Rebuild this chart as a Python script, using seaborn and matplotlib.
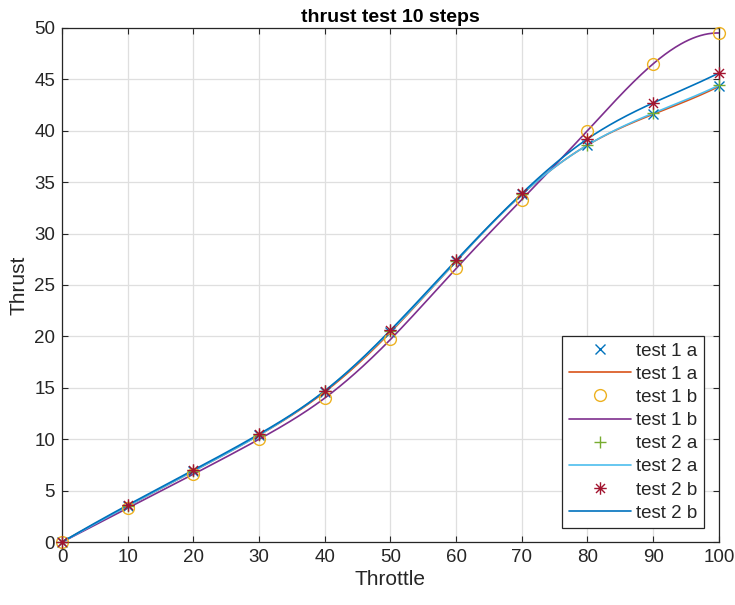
import numpy as np
import pandas as pd
import matplotlib
matplotlib.use("Agg")
import matplotlib.pyplot as plt
from matplotlib.path import Path
import seaborn as sns

throttle = [0, 10, 20, 30, 40, 50, 60, 70, 80, 90, 100]
test_1a = [0, 3.5, 6.9, 10.4, 14.6, 20.4, 27.3, 33.8, 38.6, 41.6, 44.3]
test_1b = [0, 3.3, 6.6, 10.0, 14.0, 19.7, 26.6, 33.3, 40.0, 46.5, 49.5]
test_2a = [0, 3.5, 6.9, 10.4, 14.7, 20.5, 27.3, 33.8, 38.6, 41.7, 44.4]
test_2b = [0, 3.6, 7.0, 10.5, 14.7, 20.6, 27.4, 33.9, 39.2, 42.7, 45.6]

xticks = [0, 10, 20, 30, 40, 50, 60, 70, 80, 90, 100]
yticks = [0, 5, 10, 15, 20, 25, 30, 35, 40, 45, 50]


def notaknot_spline(x, y, xq):
    """Cubic not-a-knot spline through (x, y), evaluated at xq."""
    x = np.asarray(x, float)
    y = np.asarray(y, float)
    n = len(x)
    h = np.diff(x)
    A = np.zeros((n, n))
    b = np.zeros(n)
    for i in range(1, n - 1):
        A[i, i - 1] = h[i - 1]
        A[i, i] = 2 * (h[i - 1] + h[i])
        A[i, i + 1] = h[i]
        b[i] = 6 * ((y[i + 1] - y[i]) / h[i] - (y[i] - y[i - 1]) / h[i - 1])
    A[0, 0], A[0, 1], A[0, 2] = h[1], -(h[0] + h[1]), h[0]
    A[-1, -3], A[-1, -2], A[-1, -1] = h[-1], -(h[-2] + h[-1]), h[-2]
    M = np.linalg.solve(A, b)
    idx = np.clip(np.searchsorted(x, xq) - 1, 0, n - 2)
    x0, x1 = x[idx], x[idx + 1]
    hh = x1 - x0
    return (M[idx] * (x1 - xq) ** 3 / (6 * hh)
            + M[idx + 1] * (xq - x0) ** 3 / (6 * hh)
            + (y[idx] / hh - M[idx] * hh / 6) * (x1 - xq)
            + (y[idx + 1] / hh - M[idx + 1] * hh / 6) * (xq - x0))


# eight-spoke asterisk marker
d = 0.72
asterisk = Path(
    [(0, -1), (0, 1), (-1, 0), (1, 0), (-d, -d), (d, d), (-d, d), (d, -d)],
    [Path.MOVETO, Path.LINETO] * 4,
)

sns.set_theme(style="whitegrid")
plt.rcParams["font.family"] = ["Liberation Sans", "DejaVu Sans"]
txt = "#262626"

fig = plt.figure(figsize=(7.35, 6.05), dpi=100)
ax = fig.add_axes([0.0844, 0.104, 0.8936, 0.850])

xs = np.linspace(0, 100, 501)
series = [
    ("test 1 a", test_1a, "x", 7, "#0072BD", "#D95319"),
    ("test 1 b", test_1b, "o", 8.5, "#EDB120", "#7E2F8E"),
    ("test 2 a", test_2a, "+", 8, "#77AC30", "#4DBEEE"),
    ("test 2 b", test_2b, asterisk, 9, "#A2142F", "#0072BD"),
]

handles, labels = [], []
for name, vals, mk, ms, mcol, lcol in series:
    pts = pd.DataFrame({"Throttle": throttle, "Thrust": vals})
    curve = pd.DataFrame({"Throttle": xs, "Thrust": notaknot_spline(throttle, vals, xs)})
    sns.lineplot(data=pts, x="Throttle", y="Thrust", ax=ax, linestyle="",
                 marker=mk, markersize=ms,
                 markerfacecolor="none", markeredgecolor=mcol, color=mcol,
                 markeredgewidth=1.0, zorder=4, clip_on=False)
    hm = ax.lines[-1]
    sns.lineplot(data=curve, x="Throttle", y="Thrust", ax=ax, color=lcol,
                 linewidth=1.2, zorder=3)
    hl = ax.lines[-1]
    handles += [hm, hl]
    labels += [name, name]

ax.set_xlim(0, 100)
ax.set_ylim(0, 50)
ax.set_xticks(xticks)
ax.set_yticks(yticks)
ax.grid(True, color="#DFDFDF", linewidth=0.9)
ax.set_facecolor("white")
for s in ax.spines.values():
    s.set_color(txt)
    s.set_linewidth(0.9)
ax.tick_params(axis="both", direction="in", length=4, width=0.8, colors=txt,
               labelsize=13.5, top=True, right=True, bottom=True, left=True,
               labelcolor=txt, pad=5)
ax.set_xlabel("Throttle", fontsize=15, color=txt, labelpad=3)
ax.set_ylabel("Thrust", fontsize=15, color=txt, labelpad=4)
ax.set_title("thrust test 10 steps", fontsize=14, fontweight="bold", color="black", pad=4)

leg = ax.legend(handles, labels, loc="lower right", bbox_to_anchor=(0.978, 0.027),
                fontsize=13.5, frameon=True, fancybox=False, handlelength=3.3,
                handletextpad=0.3, borderpad=0.35, labelspacing=0.32,
                borderaxespad=0)
leg.get_frame().set_edgecolor(txt)
leg.get_frame().set_linewidth(0.9)
leg.get_frame().set_alpha(1)
for t in leg.get_texts():
    t.set_color(txt)

fig.savefig("out.png", dpi=100, facecolor="white")
